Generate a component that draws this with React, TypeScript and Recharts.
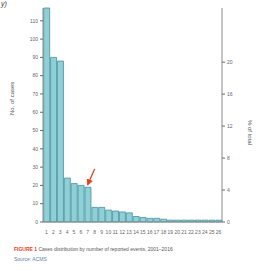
import {
  BarChart,
  Bar,
  XAxis,
  YAxis,
  ReferenceLine,
} from "recharts";

const categories = [
  "1", "2", "3", "4", "5", "6", "7", "8", "9", "10", "11", "12", "13",
  "14", "15", "16", "17", "18", "19", "20", "21", "22", "23", "24", "25", "26",
];
const counts = [
  117, 90, 88, 24, 21, 20, 19, 8, 8, 6.5, 6, 5.5, 5,
  3, 2.5, 2, 2, 1.5, 1, 1, 1, 1, 1, 1, 1, 1,
];
const leftTicks = [0, 10, 20, 30, 40, 50, 60, 70, 80, 90, 100, 110];
const rightTicks = [0, 4, 8, 12, 16, 20];

const total = counts.reduce((a, b) => a + b, 0);
const data = categories.map((c, i) => ({ name: c, count: counts[i] }));

const tickStyle = { fontSize: 5, fill: "#666", fontFamily: "Liberation Sans" };

export default function App() {
  return (
    <div
      style={{
        position: "absolute",
        left: 0,
        top: 0,
        width: 256,
        height: 271,
        background: "#fff",
        fontFamily: "Liberation Sans",
      }}
    >
      <div style={{ position: "absolute", left: 1, top: 0, fontSize: 7, lineHeight: "7px", fontStyle: "italic", color: "#333" }}>
        y)
      </div>
      <BarChart
        width={256}
        height={238}
        data={data}
        margin={{ top: 8, right: 0, left: 0, bottom: 0 }}
        barCategoryGap="10%"
      >
        <defs>
          <marker id="arrowHead" viewBox="0 0 10 10" refX="8" refY="5" markerWidth="5" markerHeight="5" orient="auto">
            <path d="M0,0 L10,5 L0,10 z" fill="#e8401c" />
          </marker>
        </defs>
        <XAxis
          dataKey="name"
          tick={tickStyle}
          tickLine={false}
          interval={0}
          height={16}
          axisLine={{ stroke: "#888" }}
        />
        <YAxis
          yAxisId="left"
          domain={[0, 117]}
          ticks={leftTicks}
          tick={tickStyle}
          tickSize={3}
          width={43}
          axisLine={{ stroke: "#888" }}
          label={{
            value: "No. of cases",
            angle: -90,
            position: "insideLeft",
            offset: 12,
            style: { fontSize: 6, fill: "#555" },
          }}
        />
        <YAxis
          yAxisId="right"
          orientation="right"
          type="number"
          domain={[0, (117 / total) * 100]}
          ticks={rightTicks}
          allowDataOverflow
          tick={tickStyle}
          tickSize={3}
          width={34}
          axisLine={{ stroke: "#888" }}
          label={{
            value: "% of total",
            angle: 90,
            position: "insideRight",
            offset: 6,
            dy: 30,
            style: { fontSize: 6, fill: "#555" },
          }}
        />
        <Bar
          yAxisId="left"
          dataKey="count"
          fill="#8fcfd6"
          stroke="#4690a0"
          strokeWidth={0.8}
          isAnimationActive={false}
        />
        <ReferenceLine
          yAxisId="left"
          segment={[
            { x: "8", y: 29 },
            { x: "7", y: 20.5 },
          ]}
          stroke="#e8401c"
          strokeWidth={1.3}
          markerEnd="url(#arrowHead)"
        />
      </BarChart>
      <div style={{ position: "absolute", left: 14, top: 244, fontSize: 5, color: "#555", lineHeight: "10px", whiteSpace: "nowrap" }}>
        <div>
          <span style={{ color: "#e8401c", fontWeight: "bold" }}>FIGURE 1</span> Cases distribution by number of reported events, 2001–2016
        </div>
        <div style={{ color: "#5a7fa8" }}>Source: ACMS</div>
      </div>
    </div>
  );
}
